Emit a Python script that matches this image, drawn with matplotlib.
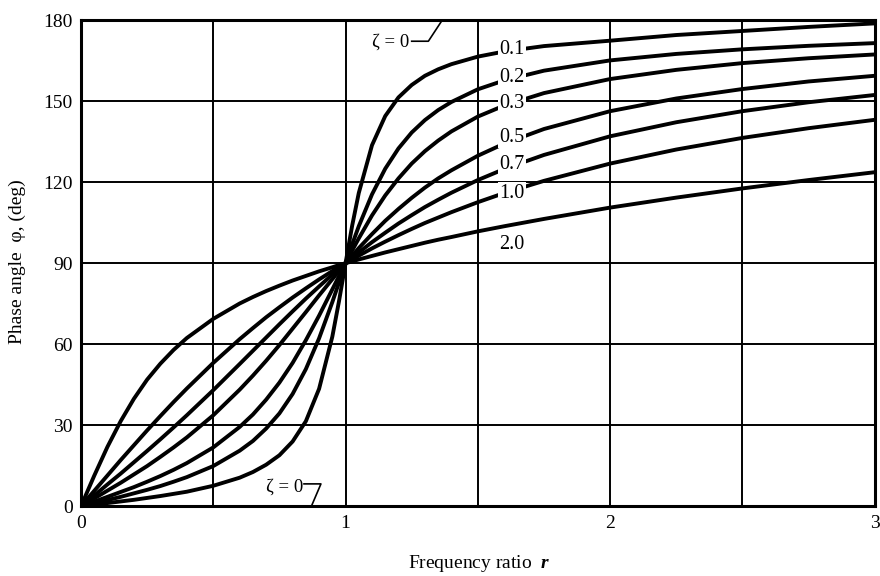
import matplotlib
matplotlib.use("Agg")
from matplotlib import pyplot as plt
import numpy as np

plt.rcParams['font.family'] = ['Liberation Serif', 'DejaVu Serif']
plt.rcParams['mathtext.fontset'] = 'custom'
plt.rcParams['mathtext.rm'] = 'Liberation Serif'
plt.rcParams['mathtext.it'] = 'Liberation Serif:italic:bold'
plt.rcParams['figure.dpi'] = 100

# frequency ratio r (read along the x axis)
r = [0, 0.05, 0.1, 0.15, 0.2, 0.25, 0.3, 0.35, 0.4,
     0.5, 0.6, 0.65, 0.7, 0.75, 0.8, 0.85, 0.9, 0.95, 0.975, 1.0,
     1.025, 1.05, 1.1, 1.15, 1.2, 1.25, 1.3, 1.35, 1.4, 1.5, 1.6, 1.75,
     2.0, 2.25, 2.5, 2.75, 3.0]

zeta_labels = ['0.1', '0.2', '0.3', '0.5', '0.7', '1.0', '2.0']

# phase angle (deg) for each damping ratio
phi_01 = [0, 0.6, 1.2, 1.8, 2.4, 3.1, 3.8, 4.6, 5.4,
          7.6, 10.6, 12.7, 15.4, 18.9, 24.0, 31.5, 43.5, 62.8, 75.8, 90,
          103.9, 116.0, 133.7, 144.5, 151.4, 156.0, 159.4, 161.8, 163.7, 166.5, 168.4, 170.4,
          172.4, 174.5, 176.0, 177.5, 178.8]
phi_02 = [0, 1.2, 2.3, 3.5, 4.8, 6.1, 7.5, 9.1, 10.8,
          14.9, 20.6, 24.2, 28.8, 34.4, 41.6, 50.8, 62.2, 75.6, 82.8, 90,
          97.0, 103.7, 115.5, 125.0, 132.5, 138.4, 143.0, 146.7, 149.7, 154.4, 157.7, 161.3,
          165.1, 167.5, 169.2, 170.5, 171.5]
phi_03 = [0, 1.7, 3.5, 5.3, 7.1, 9.1, 11.2, 13.5, 16.0,
          21.8, 29.4, 34.0, 39.5, 45.8, 53.1, 61.5, 70.6, 80.3, 85.2, 90,
          94.7, 99.2, 107.7, 115.1, 121.4, 126.9, 131.5, 135.4, 138.8, 144.3, 148.4, 153.0,
          158.2, 161.6, 164.1, 165.9, 167.3]
phi_05 = [0, 2.9, 5.8, 8.7, 11.8, 14.9, 18.3, 21.8, 25.5,
          33.7, 43.2, 48.4, 53.9, 59.7, 65.8, 71.9, 78.1, 84.1, 87.1, 90,
          92.8, 95.6, 100.8, 105.7, 110.1, 114.2, 118.0, 121.4, 124.4, 129.8, 134.3, 139.7,
          146.3, 151.0, 154.5, 157.3, 159.4]
phi_07 = [0, 4.0, 8.1, 12.1, 16.3, 20.5, 24.8, 29.2, 33.7,
          43.0, 52.7, 57.6, 62.5, 67.4, 72.2, 76.9, 81.4, 85.8, 87.9, 90,
          92.0, 94.0, 97.8, 101.3, 104.7, 107.8, 110.8, 113.5, 116.1, 120.8, 124.9, 130.1,
          137.0, 142.2, 146.3, 149.6, 152.3]
phi_10 = [0, 5.7, 11.4, 17.1, 22.6, 28.1, 33.4, 38.6, 43.6,
          53.1, 61.9, 66.0, 70.0, 73.7, 77.3, 80.7, 84.0, 87.1, 88.6, 90,
          91.4, 92.8, 95.5, 98.0, 100.4, 102.7, 104.9, 106.9, 108.9, 112.6, 116.0, 120.5,
          126.9, 132.1, 136.4, 140.0, 143.1]
phi_20 = [0, 11.3, 22.0, 31.5, 39.8, 46.9, 52.8, 57.9, 62.3,
          69.4, 75.1, 77.5, 79.7, 81.7, 83.6, 85.3, 87.0, 88.5, 89.3, 90,
          90.7, 91.4, 92.7, 94.0, 95.2, 96.4, 97.6, 98.7, 99.7, 101.8, 103.7, 106.4,
          110.6, 114.3, 117.7, 120.8, 123.7]

curves = [phi_01, phi_02, phi_03, phi_05, phi_07, phi_10, phi_20]

fig = plt.figure(figsize=(8.8, 5.76))
ax = fig.add_axes([0.092, 0.121, 0.902, 0.844])

for phi in curves:
    ax.plot(r, phi, color='black', linewidth=2.8, solid_capstyle='round',
            solid_joinstyle='round', zorder=3)

ax.set_xlim(0, 3)
ax.set_ylim(0, 180)
ax.set_xticks(np.arange(0, 3.01, 0.5))
ax.set_xticklabels(['0', '', '1', '', '2', '', '3'])
ax.set_yticks(np.arange(0, 181, 30))
ax.tick_params(length=0, labelsize=14, pad=6)
ax.grid(True, color='black', linewidth=1.4, zorder=1)
for s in ax.spines.values():
    s.set_linewidth(2.2)

# curve labels sit on the lines with a white box
label_y = [169.2, 158.9, 149.3, 136.7, 126.4, 116.0, 96.8]
for lab, yy in zip(zeta_labels, label_y):
    box = None if lab == '2.0' else dict(facecolor='white', edgecolor='none', pad=1.0)
    ax.text(1.63, yy, lab, ha='center', va='center', fontsize=14.5, bbox=box, zorder=4)

# zeta = 0 markers with leader lines
ax.text(1.24, 172.0, 'ζ = 0', ha='right', va='center', fontsize=13.5, zorder=4)
ax.plot([1.25, 1.313, 1.362], [172.2, 172.2, 179.5], color='black', linewidth=1.2, zorder=4)
ax.text(0.84, 7.0, 'ζ = 0', ha='right', va='center', fontsize=13.5, zorder=4)
ax.plot([0.843, 0.907, 0.873], [8.3, 8.3, 0.5], color='black', linewidth=1.2, zorder=4)

fig.text(0.545, 0.022, 'Frequency ratio  $r$', ha='center', va='center', fontsize=14)
fig.text(0.02, 0.545, 'Phase angle  φ, (deg)', ha='center', va='center', rotation=90, fontsize=14)

fig.savefig('out.png', dpi=100, facecolor='white')
